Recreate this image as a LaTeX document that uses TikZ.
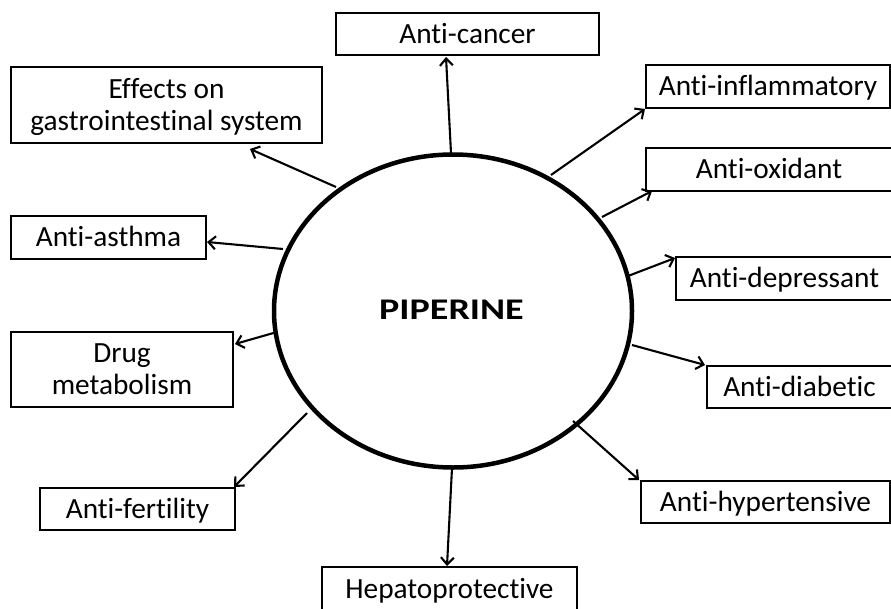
\documentclass[tikz,border=0pt]{standalone}
\usepackage{fontspec}
\setmainfont{Carlito}[Ligatures={NoCommon}]
\usetikzlibrary{shapes.geometric,arrows.meta}
\tikzset{
  box/.style={draw=black, line width=2.6pt, rectangle, inner sep=0pt,
    font=\fontsize{29.3}{32}\selectfont, text height=18.9pt, text depth=0pt},
  twobox/.style={box, align=center, text height=50.9pt},
  conn/.style={line width=2.1pt, -{Straight Barb[length=7pt,width=13pt,line width=2.1pt]}},
}
\begin{document}
\begin{tikzpicture}[x=1pt,y=-1pt]
\useasboundingbox (0,0) rectangle (891,608);
\clip (0,0) rectangle (891,608);
% centre
\node[draw, ellipse, line width=4.5pt, minimum width=358pt, minimum height=313pt, inner sep=0pt] (pip) at (453,311) {};
\node[font=\fontsize{30}{32}\selectfont\bfseries, text height=19.3pt, text depth=0pt, inner sep=0pt] (piptext) at (451.5,309.5) {\scalebox{1.27}[1]{PIPERINE}};
% boxes
\node[box, minimum width=263pt, minimum height=42pt] (cancer) at (467.5,34) {Anti-cancer};
\node[twobox, minimum width=311pt, minimum height=76pt] (gastro) at (166.5,105) {Effects on\\gastrointestinal system};
\node[box, minimum width=195pt, minimum height=43pt] (asthma) at (108.5,237.5) {Anti-asthma};
\node[twobox, minimum width=222pt, minimum height=75pt] (drug) at (122,369.5) {Drug\\metabolism};
\node[box, minimum width=195pt, minimum height=42pt] (fert) at (137.5,509) {Anti-fertility};
\node[box, minimum width=255pt, minimum height=45pt] (hepato) at (449.5,589.5) {Hepatoprotective};
\node[box, minimum width=244pt, minimum height=43pt] (inflam) at (768,86.5) {Anti-inflammatory};
\node[box, minimum width=246pt, minimum height=43pt] (oxid) at (769,169.5) {Anti-oxidant};
\node[box, minimum width=217pt, minimum height=43pt] (depr) at (784.5,278.5) {Anti-depressant};
\node[box, minimum width=185pt, minimum height=42pt] (diab) at (799.5,387) {Anti-diabetic};
\node[box, minimum width=249pt, minimum height=42pt] (hyper) at (765.5,502) {Anti-hypertensive};
% connector end points
\coordinate (s1) at (451,153); \coordinate (e1) at (446,57);
\coordinate (s2) at (336,187); \coordinate (e2) at (250,149);
\coordinate (s3) at (283,249); \coordinate (e3) at (207,242);
\coordinate (s4) at (551,175); \coordinate (e4) at (645,109);
\coordinate (s5) at (602,217); \coordinate (e5) at (652,191);
\coordinate (s6) at (628,276); \coordinate (e6) at (675,258);
\coordinate (s7) at (632,345); \coordinate (e7) at (705,365);
\coordinate (s8) at (573,421); \coordinate (e8) at (639,480);
\coordinate (s9) at (452,468); \coordinate (e9) at (447,566);
\coordinate (s10) at (307,413); \coordinate (e10) at (234,487);
\coordinate (s11) at (277,332); \coordinate (e11) at (235,344);
\draw[conn] (s1) -- (e1);
\draw[conn] (s2) -- (e2);
\draw[conn] (s3) -- (e3);
\draw[conn] (s4) -- (e4);
\draw[conn] (s5) -- (e5);
\draw[conn] (s6) -- (e6);
\draw[conn] (s7) -- (e7);
\draw[conn] (s8) -- (e8);
\draw[conn] (s9) -- (e9);
\draw[conn] (s10) -- (e10);
\draw[conn] (s11) -- (e11);
\end{tikzpicture}
\end{document}
